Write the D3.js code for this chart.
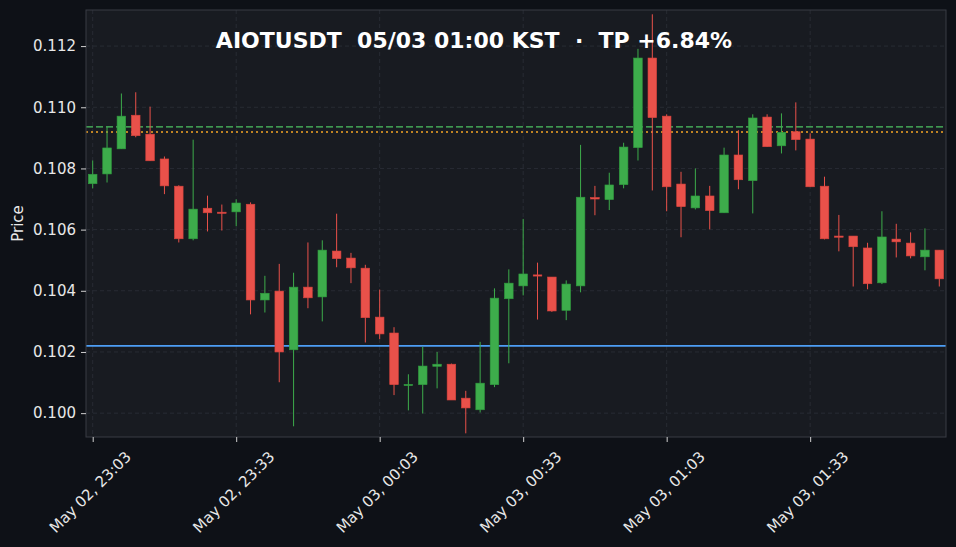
<!DOCTYPE html>
<html>
<head>
<meta charset="utf-8">
<title>AIOTUSDT candles</title>
<script src="https://cdn.jsdelivr.net/npm/d3@7"></script>
<style>
  html, body { margin: 0; padding: 0; background: #0e1117; }
  svg { display: block; font-family: "DejaVu Sans", sans-serif; }
</style>
</head>
<body>
<script>
// 3-minute candles, May 02 23:03 -> May 03 02:00 (KST)
var startTime = new Date(2024, 4, 2, 23, 3);
var endTime = new Date(2024, 4, 3, 2, 0);
var times = d3.timeMinute.every(3).range(startTime, new Date(+endTime + 1));

var open = [0.10750,0.10782,0.10864,0.10974,0.10912,0.10831,0.10742,0.10570,0.10670,0.10657,
            0.10658,0.10683,0.10370,0.10399,0.10207,0.10412,0.10380,0.10530,0.10507,0.10474,
            0.10314,0.10262,0.10092,0.10093,0.10153,0.10160,0.10049,0.10011,0.10093,0.10374,
            0.10416,0.10452,0.10445,0.10336,0.10416,0.10705,0.10698,0.10747,0.10868,0.11161,
            0.10971,0.10749,0.10671,0.10710,0.10655,0.10844,0.10760,0.10968,0.10874,0.10920,
            0.10896,0.10742,0.10579,0.10579,0.10540,0.10426,0.10569,0.10556,0.10511,0.10533];
var high = [0.10826,0.10936,0.11045,0.11049,0.11002,0.10839,0.10745,0.10894,0.10711,0.10682,
            0.10699,0.10689,0.10449,0.10488,0.10459,0.10558,0.10565,0.10652,0.10524,0.10485,
            0.10404,0.10281,0.10127,0.10217,0.10200,0.10162,0.10073,0.10233,0.10408,0.10470,
            0.10635,0.10492,0.10445,0.10434,0.10877,0.10743,0.10786,0.10884,0.11191,0.11304,
            0.10977,0.10789,0.10800,0.10743,0.10868,0.10925,0.10977,0.10977,0.10980,0.11016,
            0.10915,0.10773,0.10648,0.10579,0.10557,0.10660,0.10619,0.10591,0.10604,0.10533];
var low = [0.10735,0.10754,0.10864,0.10902,0.10825,0.10716,0.10558,0.10565,0.10594,0.10597,
           0.10611,0.10323,0.10329,0.10101,0.09957,0.10343,0.10300,0.10477,0.10425,0.10231,
           0.10242,0.10059,0.10009,0.09999,0.10081,0.10043,0.09934,0.10002,0.10085,0.10163,
           0.10385,0.10306,0.10331,0.10304,0.10395,0.10647,0.10664,0.10735,0.10826,0.10728,
           0.10660,0.10575,0.10666,0.10601,0.10655,0.10732,0.10653,0.10871,0.10849,0.10859,
           0.10740,0.10568,0.10529,0.10414,0.10405,0.10422,0.10509,0.10506,0.10467,0.10414];
var close = [0.10781,0.10867,0.10971,0.10907,0.10825,0.10743,0.10570,0.10667,0.10655,0.10655,
             0.10687,0.10370,0.10392,0.10200,0.10412,0.10377,0.10533,0.10505,0.10475,0.10312,
             0.10259,0.10093,0.10094,0.10154,0.10160,0.10043,0.10017,0.10098,0.10376,0.10425,
             0.10455,0.10450,0.10334,0.10422,0.10706,0.10700,0.10746,0.10870,0.11161,0.10966,
             0.10740,0.10675,0.10710,0.10662,0.10844,0.10763,0.10965,0.10871,0.10918,0.10894,
             0.10740,0.10570,0.10576,0.10544,0.10423,0.10576,0.10560,0.10514,0.10533,0.10439];

var entryPrice = 0.10220;   // blue solid
var tpPrice = 0.10919;      // orange dotted
var hiPrice = 0.10936;      // green dashed

var yTicks = [0.100, 0.102, 0.104, 0.106, 0.108, 0.110, 0.112];
var xTickTimes = [new Date(2024, 4, 2, 23, 3), new Date(2024, 4, 2, 23, 33),
                  new Date(2024, 4, 3, 0, 3), new Date(2024, 4, 3, 0, 33),
                  new Date(2024, 4, 3, 1, 3), new Date(2024, 4, 3, 1, 33)];
var title = "AIOTUSDT  05/03 01:00 KST  ·  TP +6.84%";

var w = 956, h = 547;
var mLeft = 86, mRight = 946, mTop = 10, mBottom = 437;

var candles = times.map(function(t, i) {
  return {t: t, o: open[i], h: high[i], l: low[i], c: close[i]};
});

var svg = d3.select("body").append("svg")
  .attr("width", w).attr("height", h);

svg.append("rect").attr("width", w).attr("height", h).attr("fill", "#0e1117");
svg.append("rect")
  .attr("x", mLeft).attr("y", mTop)
  .attr("width", mRight - mLeft).attr("height", mBottom - mTop)
  .attr("fill", "#181b21");

var pad = 1.4 * 60000;
var x = d3.scaleTime()
  .domain([+startTime - pad, +endTime + pad])
  .range([mLeft, mRight]);
var y = d3.scaleLinear()
  .domain([0.09922, 0.11318])
  .range([mBottom, mTop]);

// grid
svg.append("g").selectAll("line").data(yTicks).enter().append("line")
  .attr("x1", mLeft).attr("x2", mRight)
  .attr("y1", function(d) { return y(d); }).attr("y2", function(d) { return y(d); })
  .attr("stroke", "#2c3038").attr("stroke-width", 0.8).attr("stroke-dasharray", "4,3");
svg.append("g").selectAll("line").data(xTickTimes).enter().append("line")
  .attr("y1", mTop).attr("y2", mBottom)
  .attr("x1", function(d) { return x(d); }).attr("x2", function(d) { return x(d); })
  .attr("stroke", "#2c3038").attr("stroke-width", 0.8).attr("stroke-dasharray", "4,3");

// reference lines
svg.append("line").attr("x1", mLeft).attr("x2", mRight)
  .attr("y1", y(hiPrice)).attr("y2", y(hiPrice))
  .attr("stroke", "#4cc462").attr("stroke-width", 1.3).attr("stroke-dasharray", "7,3");
svg.append("line").attr("x1", mLeft).attr("x2", mRight)
  .attr("y1", y(tpPrice)).attr("y2", y(tpPrice))
  .attr("stroke", "#f5a623").attr("stroke-width", 1.5).attr("stroke-dasharray", "2,3");
svg.append("line").attr("x1", mLeft).attr("x2", mRight)
  .attr("y1", y(entryPrice)).attr("y2", y(entryPrice))
  .attr("stroke", "#4d9ef5").attr("stroke-width", 1.6);

var up = "#3dac4b", down = "#e9514a";
var bw = 8.6;

var g = svg.append("g");
g.selectAll("line.wick").data(candles).enter().append("line")
  .attr("class", "wick")
  .attr("x1", function(d) { return x(d.t); }).attr("x2", function(d) { return x(d.t); })
  .attr("y1", function(d) { return y(d.h); }).attr("y2", function(d) { return y(d.l); })
  .attr("stroke", function(d) { return d.c >= d.o ? up : down; })
  .attr("stroke-width", 1);
g.selectAll("rect.body").data(candles).enter().append("rect")
  .attr("class", "body")
  .attr("x", function(d) { return x(d.t) - bw / 2; })
  .attr("width", bw)
  .attr("y", function(d) { return y(Math.max(d.o, d.c)); })
  .attr("height", function(d) { return Math.max(1.2, Math.abs(y(d.o) - y(d.c))); })
  .attr("fill", function(d) { return d.c >= d.o ? up : down; })
  .attr("stroke", function(d) { return d.c >= d.o ? "#2f9a3e" : "#d8433d"; })
  .attr("stroke-width", 0.6);

// frame
svg.append("rect")
  .attr("x", mLeft).attr("y", mTop)
  .attr("width", mRight - mLeft).attr("height", mBottom - mTop)
  .attr("fill", "none").attr("stroke", "#393d45").attr("stroke-width", 1);

// axes
var yAxis = svg.append("g")
  .attr("transform", "translate(" + mLeft + ",0)")
  .call(d3.axisLeft(y).tickValues(yTicks).tickFormat(d3.format(".3f")).tickSize(5).tickPadding(5));
var xAxis = svg.append("g")
  .attr("transform", "translate(0," + mBottom + ")")
  .call(d3.axisBottom(x).tickValues(xTickTimes).tickFormat(d3.timeFormat("%b %d, %H:%M")).tickSize(5).tickPadding(3));

[yAxis, xAxis].forEach(function(a) {
  a.select(".domain").remove();
  a.selectAll(".tick line").attr("stroke", "#d0d0d0");
  a.selectAll("text").attr("fill", "#e8e8e8").attr("font-size", "15px")
    .attr("font-family", "DejaVu Sans, sans-serif");
});

xAxis.selectAll("text")
  .attr("text-anchor", "middle")
  .attr("dy", "0.35em")
  .attr("y", 0).attr("x", 0)
  .attr("transform", "translate(-3,55) rotate(-45)");

svg.append("text")
  .attr("transform", "translate(23," + ((mTop + mBottom) / 2) + ") rotate(-90)")
  .attr("text-anchor", "middle")
  .attr("fill", "#e8e8e8").attr("font-size", "15px")
  .text("Price");

svg.append("text")
  .attr("x", 474).attr("y", 48)
  .attr("text-anchor", "middle")
  .style("white-space", "pre")
  .attr("fill", "#ffffff").attr("font-size", "22px").attr("font-weight", "bold")
  .text(title);
</script>
</body>
</html>
